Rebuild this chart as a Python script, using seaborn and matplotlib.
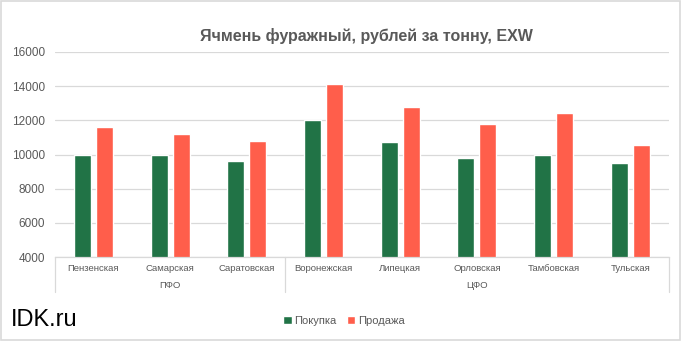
import matplotlib
matplotlib.use("Agg")
import matplotlib.pyplot as plt
import matplotlib.transforms as mtransforms
from matplotlib.patches import Rectangle, Patch
import seaborn as sns
import pandas as pd

# ---- data ----
regions = ["Пензенская", "Самарская", "Саратовская", "Воронежская",
           "Липецкая", "Орловская", "Тамбовская", "Тульская"]
groups = ["ПФО", "ЦФО"]
group_sizes = [3, 5]
buy = [10000, 9950, 9600, 12000, 10750, 9800, 10000, 9500]
sell = [11600, 11200, 10800, 14100, 12800, 11800, 12450, 10550]
series_names = ["Покупка", "Продажа"]
title = "Ячмень фуражный, рублей за тонну, EXW"
yticks = [4000, 6000, 8000, 10000, 12000, 14000, 16000]

df = pd.DataFrame({
    "region": regions * 2,
    "series": [series_names[0]] * len(regions) + [series_names[1]] * len(regions),
    "value": buy + sell,
})

GREEN = "#217346"
RED = "#FF5E4B"
GRAY = "#595959"
LINE = "#d9d9d9"

sns.set_theme(style="white")
plt.rcParams["font.family"] = ["Liberation Sans", "DejaVu Sans"]

W, H = 681, 341
fig = plt.figure(figsize=(W / 100, H / 100), dpi=100)
ax = fig.add_axes([55 / W, 1 - 257 / H, (668.7 - 55) / W, 205 / H])

sns.barplot(data=df, x="region", y="value", hue="series", order=regions,
            hue_order=series_names, palette=[GREEN, RED], width=0.574,
            gap=0.226, ax=ax, legend=False, saturation=1)

ax.set_ylim(yticks[0], yticks[-1])
ax.set_yticks(yticks)
ax.set_xlim(-0.5, len(regions) - 0.5)
ax.grid(axis="y", color=LINE, lw=0.9)
ax.grid(axis="x", visible=False)
ax.set_axisbelow(True)
for s in ["left", "right", "top"]:
    ax.spines[s].set_visible(False)
ax.spines["bottom"].set_color(LINE)
ax.spines["bottom"].set_linewidth(0.9)
ax.set_xlabel("")
ax.set_ylabel("")
ax.tick_params(axis="y", length=0, pad=7, labelsize=8.5, labelcolor=GRAY)
ax.tick_params(axis="x", length=0, pad=5, labelsize=6.8, labelcolor=GRAY)

# group labels and separators
trans = mtransforms.blended_transform_factory(ax.transData, ax.transAxes)
start = -0.5
bounds = [start]
for g, n in zip(groups, group_sizes):
    end = start + n
    ax.text((start + end) / 2, -0.137, g, transform=trans, ha="center",
            va="center", fontsize=6.8, color=GRAY)
    start = end
    bounds.append(end)
for b in bounds:
    ax.plot([b, b], [0, -0.169], transform=trans, clip_on=False,
            color=LINE, lw=0.9)

# title
fig.text(366 / W, 1 - 36 / H, title, ha="center", va="center",
         fontsize=11.5, fontweight="bold", color=GRAY)

# watermark
fig.text(11 / W, 1 - 320 / H, "IDK.ru", ha="left", va="center",
         fontsize=17, color="black")

# legend
handles = [Patch(facecolor=GREEN, label=series_names[0]),
           Patch(facecolor=RED, label=series_names[1])]
fig.legend(handles=handles, loc="center", bbox_to_anchor=(344 / W, 1 - 321 / H),
           ncol=2, frameon=False, fontsize=8, handlelength=0.75,
           handleheight=0.75, handletextpad=0.25, columnspacing=0.9,
           labelcolor=GRAY)

# outer border
fig.add_artist(Rectangle((0.001, 0.002), 0.997, 0.995, transform=fig.transFigure,
                         fill=False, edgecolor=LINE, lw=1.2))

fig.savefig("out.png", dpi=100)
